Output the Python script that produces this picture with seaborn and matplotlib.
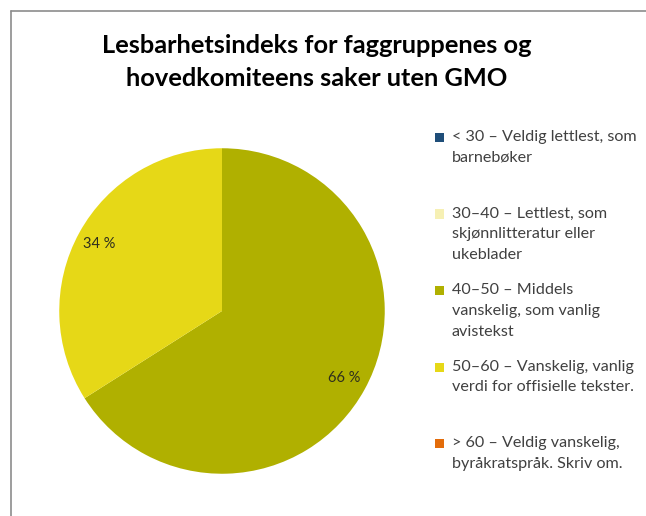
import numpy as np
import pandas as pd
import seaborn as sns
import matplotlib.pyplot as plt
from matplotlib.patches import Rectangle
from matplotlib.lines import Line2D

# kategorier og andeler (prosent)
categories = ["< 30 – Veldig lettlest, som\nbarnebøker",
              "30–40 – Lettlest, som\nskjønnlitteratur eller\nukeblader",
              "40–50 – Middels\nvanskelig, som vanlig\navistekst",
              "50–60 – Vanskelig, vanlig\nverdi for offisielle tekster.",
              "> 60 – Veldig vanskelig,\nbyråkratspråk. Skriv om."]
values = [0, 0, 66, 34, 0]
colors = ["#1F4E79", "#F6F0B4", "#B0B000", "#E6D817", "#E36C0A"]
title = "Lesbarhetsindeks for faggruppenes og\nhovedkomiteens saker uten GMO"

df = pd.DataFrame({"kategori": categories, "andel": values, "farge": colors})
slices = df[df["andel"] > 0]

sns.set_theme(style="white")
plt.rcParams['font.family'] = ['Lato', 'DejaVu Sans']

W, H = 646, 516
fig = plt.figure(figsize=(W / 100, H / 100), dpi=100)
fig.patch.set_facecolor("white")

# kantlinje (diagramramme, beskåret til høyre og nede)
fig.add_artist(Line2D([11 / W, 11 / W], [0, 1 - 11 / H], transform=fig.transFigure,
                      color="#8c8c8c", lw=1.2))
fig.add_artist(Line2D([11 / W, 1], [1 - 11 / H, 1 - 11 / H], transform=fig.transFigure,
                      color="#8c8c8c", lw=1.2))

fig.text(317 / W, 1 - 34 / H, title, ha="center", va="top", fontsize=18.3,
         fontweight="bold", color="black", linespacing=1.5)

# kakediagram
ax = fig.add_axes([56 / W, 1 - 477 / H, 332 / W, 332 / H])
ax.pie(slices["andel"], colors=slices["farge"], startangle=90, counterclock=False,
       autopct=lambda p: f"{p:.0f} %", pctdistance=0.86,
       wedgeprops=dict(linewidth=0),
       textprops=dict(fontsize=10.5, color="#2e2e1e"))
ax.set_xlim(-1.02, 1.02)
ax.set_ylim(-1.02, 1.02)
ax.set_aspect("equal")
ax.axis("off")

# forklaring
y0 = 130
step = 76.5
for i, row in df.iterrows():
    y = y0 + i * step
    fig.add_artist(Rectangle((435 / W, 1 - (y + 12) / H), 9 / W, 9 / H,
                             transform=fig.transFigure, color=row["farge"], lw=0))
    fig.text(452 / W, 1 - y / H, row["kategori"], ha="left", va="top",
             fontsize=11.6, color="#404040", linespacing=1.62)

fig.savefig("out.png", dpi=100)
